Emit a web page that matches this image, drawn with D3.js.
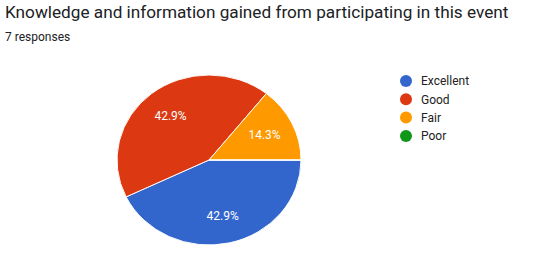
<!DOCTYPE html>
<html>
<head>
<meta charset="utf-8">
<script src="https://cdn.jsdelivr.net/npm/d3@7"></script>
<style>
body{margin:0;background:#fff;font-family:Roboto,Arial,sans-serif;}
</style>
</head>
<body>
<div id="chart"></div>
<script>
// data
const categories = ["Excellent", "Good", "Fair", "Poor"];
const counts = [3, 3, 1, 0];
const colors = ["#3366cc", "#dc3912", "#ff9900", "#109618"];

const w = 544, h = 256;
const svg = d3.select("#chart").append("svg")
    .attr("width", w)
    .attr("height", h);

svg.append("text")
    .attr("x", 5).attr("y", 18)
    .style("font-size", "17.2px")
    .attr("fill", "#202124")
    .text("Knowledge and information gained from participating in this event");

svg.append("text")
    .attr("x", 5).attr("y", 41)
    .style("font-size", "12px")
    .attr("fill", "#202124")
    .text(counts.reduce((a, b) => a + b, 0) + " responses");

// pie (picture is a bit squashed vertically)
const total = d3.sum(counts);
const rx = 92, ry = 85;
const cx = 209, cy = 160;
const pie = d3.pie().sort(null)
    .startAngle(Math.PI / 2)
    .endAngle(Math.PI / 2 + 2 * Math.PI);
const arcs = pie(counts);
const arc = d3.arc().innerRadius(0).outerRadius(rx);
const labelArc = d3.arc().innerRadius(rx * 0.67).outerRadius(rx * 0.67);

const g = svg.append("g")
    .attr("transform", "translate(" + cx + "," + cy + ") scale(1," + (ry / rx) + ")");

g.selectAll("path")
    .data(arcs)
    .enter()
    .append("path")
    .attr("d", arc)
    .attr("fill", (d, i) => colors[i])
    .attr("stroke", "#fff")
    .attr("stroke-width", 1);

svg.selectAll(".lbl")
    .data(arcs.filter(d => d.value > 0))
    .enter()
    .append("text")
    .attr("class", "lbl")
    .attr("x", d => cx + labelArc.centroid(d)[0])
    .attr("y", d => cy + labelArc.centroid(d)[1] * ry / rx)
    .attr("text-anchor", "middle")
    .attr("dy", "0.35em")
    .style("font-size", "12px")
    .attr("fill", "#fff")
    .text(d => (d.value / total * 100).toFixed(1) + "%");

// legend
const legend = svg.selectAll(".leg")
    .data(categories)
    .enter()
    .append("g")
    .attr("class", "leg")
    .attr("transform", (d, i) => "translate(406," + (81 + i * 18.3) + ")");

legend.append("circle")
    .attr("r", 6)
    .attr("fill", (d, i) => colors[i]);

legend.append("text")
    .attr("x", 15)
    .attr("dy", "0.35em")
    .style("font-size", "12px")
    .attr("fill", "#222")
    .text(d => d);
</script>
</body>
</html>
